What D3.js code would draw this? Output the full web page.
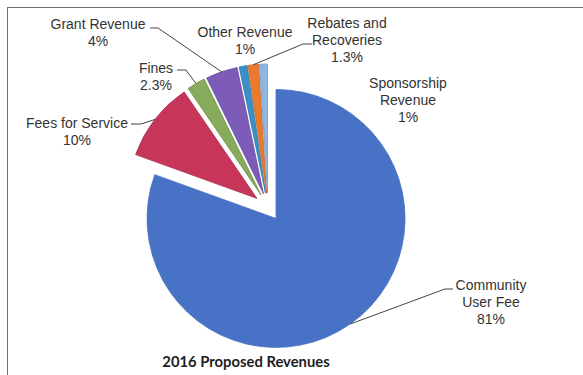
<!DOCTYPE html>
<html>
<head>
<meta charset="utf-8">
<script src="https://cdn.jsdelivr.net/npm/d3@7"></script>
<style>
  html, body { margin: 0; padding: 0; background: #fff; }
  svg { display: block; }
</style>
</head>
<body>
<svg id="chart" width="583" height="375"></svg>
<script>
// Revenue categories, in drawing order (clockwise from 12 o'clock)
const categories = ["Community User Fee", "Fees for Service", "Fines", "Grant Revenue",
                    "Other Revenue", "Rebates and Recoveries", "Sponsorship Revenue"];
// Share of 2016 proposed revenues, percent
const values = [81, 10, 2.3, 4, 1, 1.3, 1];
// Label text lines for each category (value is appended as a percentage)
const labelLines = [["Community", "User Fee"], ["Fees for Service"], ["Fines"], ["Grant Revenue"],
                    ["Other Revenue"], ["Rebates and", "Recoveries"], ["Sponsorship", "Revenue"]];
const colors = ["#4872c6", "#c73559", "#86ab5b", "#7c5bb9", "#3a8fc6", "#ec7a2c", "#8eb6e2"];
const title = "2016 Proposed Revenues";

const svg = d3.select("#chart");
const W = 583, H = 375;

// chart frame
svg.append("rect").attr("x", 7.5).attr("y", 7.5).attr("width", W).attr("height", H)
  .attr("fill", "#fff").attr("stroke", "#6f6f6f").attr("stroke-width", 1);

const cx = 268, cy = 207, R = 129, explode = 14;

const pie = d3.pie().value(d => d).sort(null).startAngle(0).endAngle(2 * Math.PI);
const arcs = pie(values);
const arc = d3.arc().innerRadius(0).outerRadius(R);

const offset = a => {
  const m = (a.startAngle + a.endAngle) / 2;
  return [explode * Math.sin(m), -explode * Math.cos(m)];
};

const g = svg.append("g").attr("transform", `translate(${cx},${cy})`);
g.selectAll("path.slice").data(arcs).enter().append("path")
  .attr("class", "slice")
  .attr("d", arc)
  .attr("transform", d => { const o = offset(d); return `translate(${o[0]},${o[1]})`; })
  .attr("fill", (d, i) => colors[i])
  .attr("stroke", (d, i) => i === 0 ? colors[i] : d3.color(colors[i]).darker(0.5))
  .attr("stroke-width", 0.8);

// label layout: centre x, first-line centre y, optional leader elbow + end
const labelLayout = [
  { x: 491, y: 285, leader: [[445, 289], [453, 289]] },
  { x: 77,  y: 123, leader: [[141, 124], [131, 124]] },
  { x: 156, y: 68,  leader: [[186, 70], [177, 70]] },
  { x: 98,  y: 24,  leader: [[158, 28], [150, 28]] },
  { x: 245, y: 32,  leader: null },
  { x: 347, y: 23,  leader: [[303, 44], [312, 44]] },
  { x: 408, y: 83,  leader: null }
];
const lineH = 17;

arcs.forEach((a, i) => {
  const L = labelLayout[i];
  const lines = labelLines[i].concat([values[i] + "%"]);
  const t = svg.append("text")
    .attr("text-anchor", "middle")
    .attr("font-family", "Liberation Sans, Arial, sans-serif")
    .attr("font-size", 14)
    .attr("fill", "#333");
  lines.forEach((s, k) => {
    t.append("tspan").attr("x", L.x).attr("y", L.y + 5 + k * lineH).text(s);
  });
  if (L.leader) {
    const o = offset(a);
    const m = (a.startAngle + a.endAngle) / 2;
    const start = [cx + o[0] + R * Math.sin(m), cy + o[1] - R * Math.cos(m)];
    svg.append("path")
      .attr("d", d3.line()([start].concat(L.leader)))
      .attr("fill", "none").attr("stroke", "#444").attr("stroke-width", 1);
  }
});

svg.append("text")
  .attr("x", 246).attr("y", 367)
  .attr("text-anchor", "middle")
  .attr("font-family", "Lato, Open Sans, sans-serif")
  .attr("font-weight", 700)
  .attr("font-size", 14.8)
  .attr("fill", "#1e1e1e")
  .text(title);
</script>
</body>
</html>
